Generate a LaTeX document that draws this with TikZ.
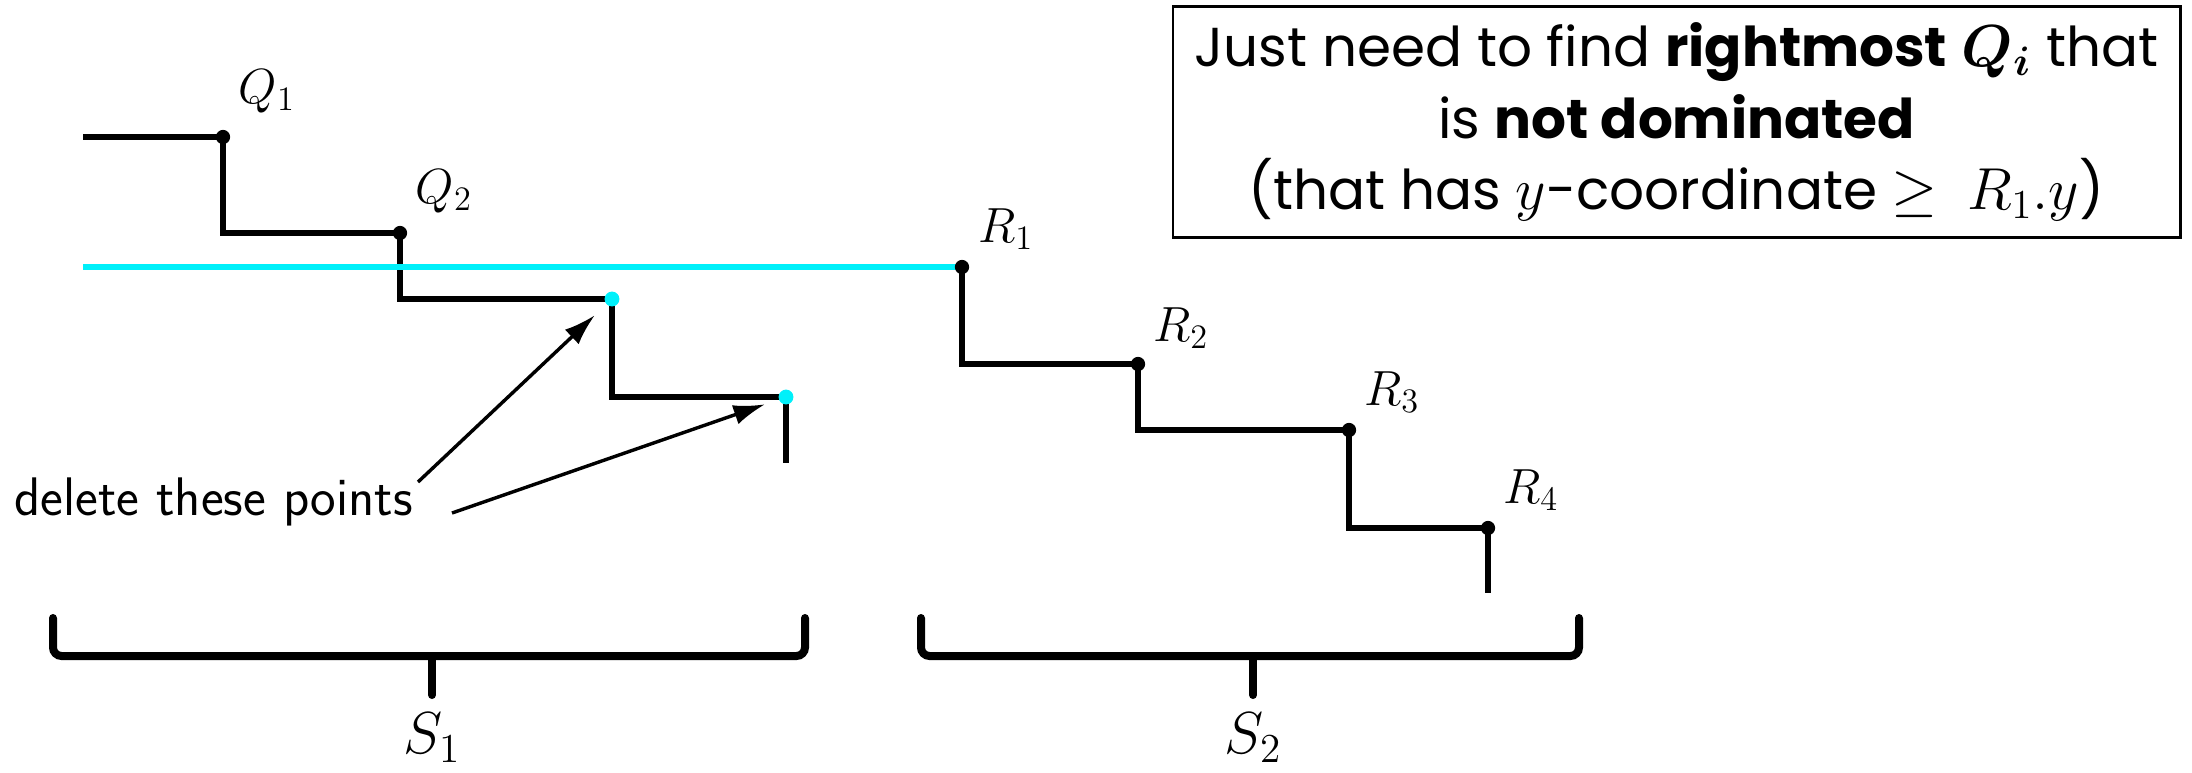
\documentclass[tikz,border=0pt]{standalone}
\usepackage{amsmath,amssymb}
\usepackage{fontspec}
\newfontfamily\gothic{Poppins}
\definecolor{aqua}{RGB}{0,240,250}
\usetikzlibrary{arrows.meta,positioning,calc}

\begin{document}
\begin{tikzpicture}[>={Latex[length=11pt,width=7pt]},x=0.35pt,y=-0.35pt]
  \tikzstyle{stair}=[line width=1.8pt]
  \tikzstyle{pdot}=[circle,fill=black,inner sep=0pt,minimum size=5pt]
  \tikzstyle{cdot}=[circle,fill=aqua,inner sep=0pt,minimum size=5.2pt]
  \tikzstyle{lbl}=[inner sep=0pt,font=\fontsize{17}{20}\selectfont]
  \tikzstyle{slbl}=[inner sep=0pt,font=\fontsize{20.74}{24}\selectfont]
  \tikzstyle{arw}=[line width=1.2pt]
  \tikzstyle{bracket}=[line width=2.8pt,rounded corners=3pt,line cap=round]
  \useasboundingbox (0,0) rectangle (2192,772);

  \coordinate (Q0) at (83,137);
  \coordinate (Q1) at (223,137);
  \coordinate (Q2) at (400,233);
  \coordinate (Q3) at (612,299);
  \coordinate (Q4) at (786,397);
  \coordinate (R0) at (83,267);
  \coordinate (R1) at (962,267);
  \coordinate (R2) at (1138,364);
  \coordinate (R3) at (1349,430);
  \coordinate (R4) at (1488,528);

  \draw[stair] (Q0) -- (Q1) |- (Q2) |- (Q3) |- (Q4) -- ++(0,66);
  \draw[stair] (R1) |- (R2) |- (R3) |- (R4) -- ++(0,65);
  \draw[aqua,line width=2.2pt] (R0) -- (R1);

  \node[pdot] (q1) at (Q1) {};
  \node[pdot] (q2) at (Q2) {};
  \node[cdot] (q3) at (Q3) {};
  \node[cdot] (q4) at (Q4) {};
  \node[pdot] (r1) at (R1) {};
  \node[pdot] (r2) at (R2) {};
  \node[pdot] (r3) at (R3) {};
  \node[pdot] (r4) at (R4) {};

  \node[lbl] (lq1) at ($(Q1)+(44,-46)$) {$Q_1$};
  \node[lbl] (lq2) at ($(Q2)+(44,-42)$) {$Q_2$};
  \node[lbl] (lr1) at ($(R1)+(44,-38)$) {$R_1$};
  \node[lbl] (lr2) at ($(R2)+(43,-36)$) {$R_2$};
  \node[lbl] (lr3) at ($(R3)+(43,-38)$) {$R_3$};
  \node[lbl] (lr4) at ($(R4)+(43,-38)$) {$R_4$};

  \node[anchor=base west,inner sep=0pt,font=\fontsize{19}{22}\sffamily] (del) at (14,515) {delete these points};
  \coordinate (t1) at (418,482);
  \coordinate (t2) at (452,513);
  \draw[->,arw,shorten >=5.5pt] (t1) -- (q3);
  \draw[->,arw,shorten >=5pt] (t2) -- (q4);

  \node[draw,line width=1pt,inner sep=0pt,minimum width=352.5pt,minimum height=81pt,align=center,
        font=\gothic\fontsize{19.2}{25}\selectfont] (note) at (1676.5,122)
    {Just need to find \textbf{rightmost} {\boldmath$Q_i$} that\\
     is \textbf{not dominated}\\
     (that has $y$-coordinate $\geq$\ \ $R_1.y$)};

  \coordinate (b1l) at (53,618);
  \coordinate (b1m) at (432,656);
  \coordinate (b1r) at (805,618);
  \coordinate (b1t) at (432,695);
  \coordinate (b2l) at (921,618);
  \coordinate (b2m) at (1253,656);
  \coordinate (b2r) at (1579,618);
  \coordinate (b2t) at (1253,695);
  \draw[bracket] (b1l) |- (b1m) -| (b1r);
  \draw[bracket] (b1m) -- (b1t);
  \draw[bracket] (b2l) |- (b2m) -| (b2r);
  \draw[bracket] (b2m) -- (b2t);

  \node[slbl,below=6pt of b1t] (s1) {$S_1$};
  \node[slbl,below=6pt of b2t] (s2) {$S_2$};
\end{tikzpicture}
\end{document}
